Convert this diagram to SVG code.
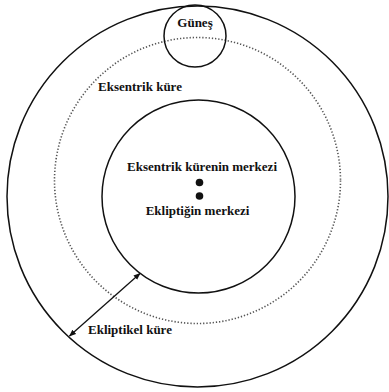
<svg xmlns="http://www.w3.org/2000/svg" width="389" height="392" viewBox="0 0 389 392">
<style>
.ring{fill:none;stroke:#111;stroke-width:1.5}
.dot{fill:none;stroke:#555;stroke-width:1.6;stroke-dasharray:1.3 1.9}
.lbl{font-family:"Liberation Serif","Times New Roman",serif;font-weight:bold;font-size:13px;fill:#111}
</style>
<defs>
<marker id="ah" viewBox="0 0 10 10" refX="9" refY="5" markerWidth="7" markerHeight="7" orient="auto-start-reverse" markerUnits="userSpaceOnUse">
<path d="M0,1 L10,5 L0,9 z" fill="#111"/>
</marker>
</defs>
<rect width="389" height="392" fill="#fff"/>
<g id="ekliptikel-kure">
<circle class="ring" cx="197.5" cy="196.5" r="190.5"/>
<text class="lbl" x="88" y="334">Ekliptikel küre</text>
</g>
<g id="eksentrik-kure">
<circle class="dot" cx="197.5" cy="180.5" r="143"/>
<text class="lbl" x="98" y="91">Eksentrik küre</text>
</g>
<g id="inner">
<circle class="ring" cx="198.5" cy="196.5" r="96.5"/>
</g>
<g id="gunes">
<circle class="ring" cx="195" cy="36" r="31"/>
<text class="lbl" x="195" y="27" text-anchor="middle">Güneş</text>
</g>
<g id="eksentrik-merkez">
<circle cx="199.5" cy="182.5" r="3.8" fill="#111"/>
<text class="lbl" x="202" y="171" text-anchor="middle">Eksentrik kürenin merkezi</text>
</g>
<g id="ekliptik-merkez">
<circle cx="199.5" cy="196" r="3.8" fill="#111"/>
<text class="lbl" x="197.5" y="215" text-anchor="middle">Ekliptiğin merkezi</text>
</g>
<g id="connectors">
<line x1="69.5" y1="336" x2="140" y2="273.5" stroke="#111" stroke-width="1.3" marker-start="url(#ah)" marker-end="url(#ah)"/>
</g>
</svg>
